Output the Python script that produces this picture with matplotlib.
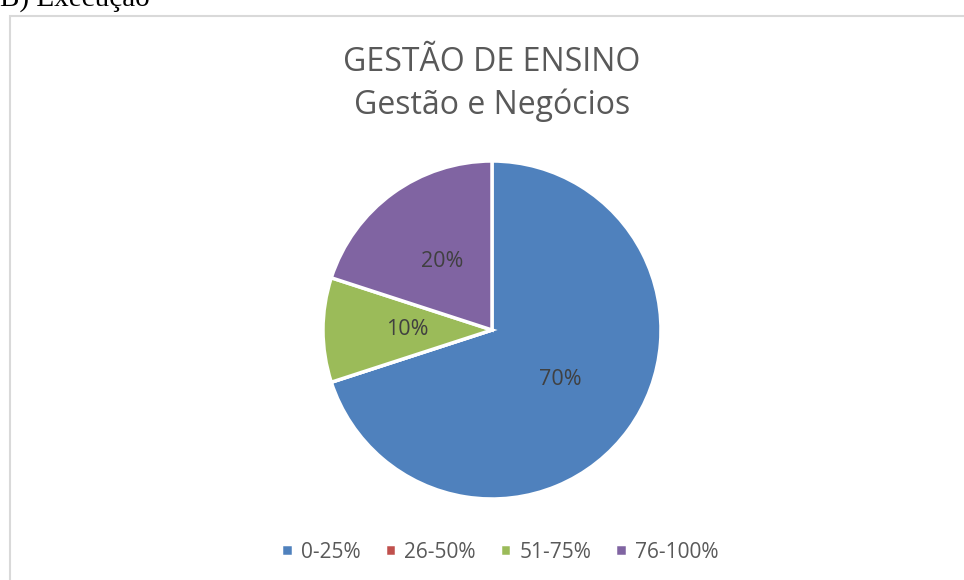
import matplotlib.pyplot as plt
from matplotlib.patches import Rectangle

W, H = 964, 580

categories = ["0-25%", "26-50%", "51-75%", "76-100%"]
values = [70, 0, 10, 20]
colors = ["#4F81BD", "#C0504D", "#9BBB59", "#8064A2"]
title = "GESTÃO DE ENSINO\nGestão e Negócios"

plt.rcParams["font.family"] = ["Open Sans", "DejaVu Sans"]

fig = plt.figure(figsize=(W / 100, H / 100), dpi=100)

# chart frame, runs off the right and bottom edges
fig.patches.append(Rectangle((9.5 / W, -0.1), 1.2, 1 - 15.5 / H + 0.1,
                             transform=fig.transFigure, fill=False,
                             edgecolor="#d9d9d9", linewidth=1.5))

# heading of the page, cut off at the top like in the source
fig.text(0, 1 - 6 / H, "B) Execução", family="Liberation Serif",
         fontsize=21, color="black", ha="left", va="baseline")

fig.text(492 / W, 1 - 84 / H, title, ha="center", va="center",
         fontsize=23, color="#595959", linespacing=1.38)

cx, cy, r = 492, 330, 169
ax = fig.add_axes([(cx - r) / W, 1 - (cy + r) / H, 2 * r / W, 2 * r / H])


def pct(p):
    return "" if p < 0.5 else "%.0f%%" % p


wedges, _, autotexts = ax.pie(values, colors=colors, startangle=90, counterclock=False,
                              autopct=pct, pctdistance=0.5, radius=1,
                              wedgeprops=dict(edgecolor="white", linewidth=2.5))
for t in autotexts:
    t.set_fontsize(15.5)
    t.set_color("#404040")
ax.set_xlim(-1, 1)
ax.set_ylim(-1, 1)
ax.set_aspect("auto")

leg = fig.legend(wedges, categories, loc="center", bbox_to_anchor=(500 / W, 1 - 552 / H),
                 ncol=4, frameon=False, fontsize=15, handlelength=0.55, handleheight=0.55,
                 handletextpad=0.4, columnspacing=1.15, labelcolor="#595959")

fig.savefig("out.png", dpi=100)
